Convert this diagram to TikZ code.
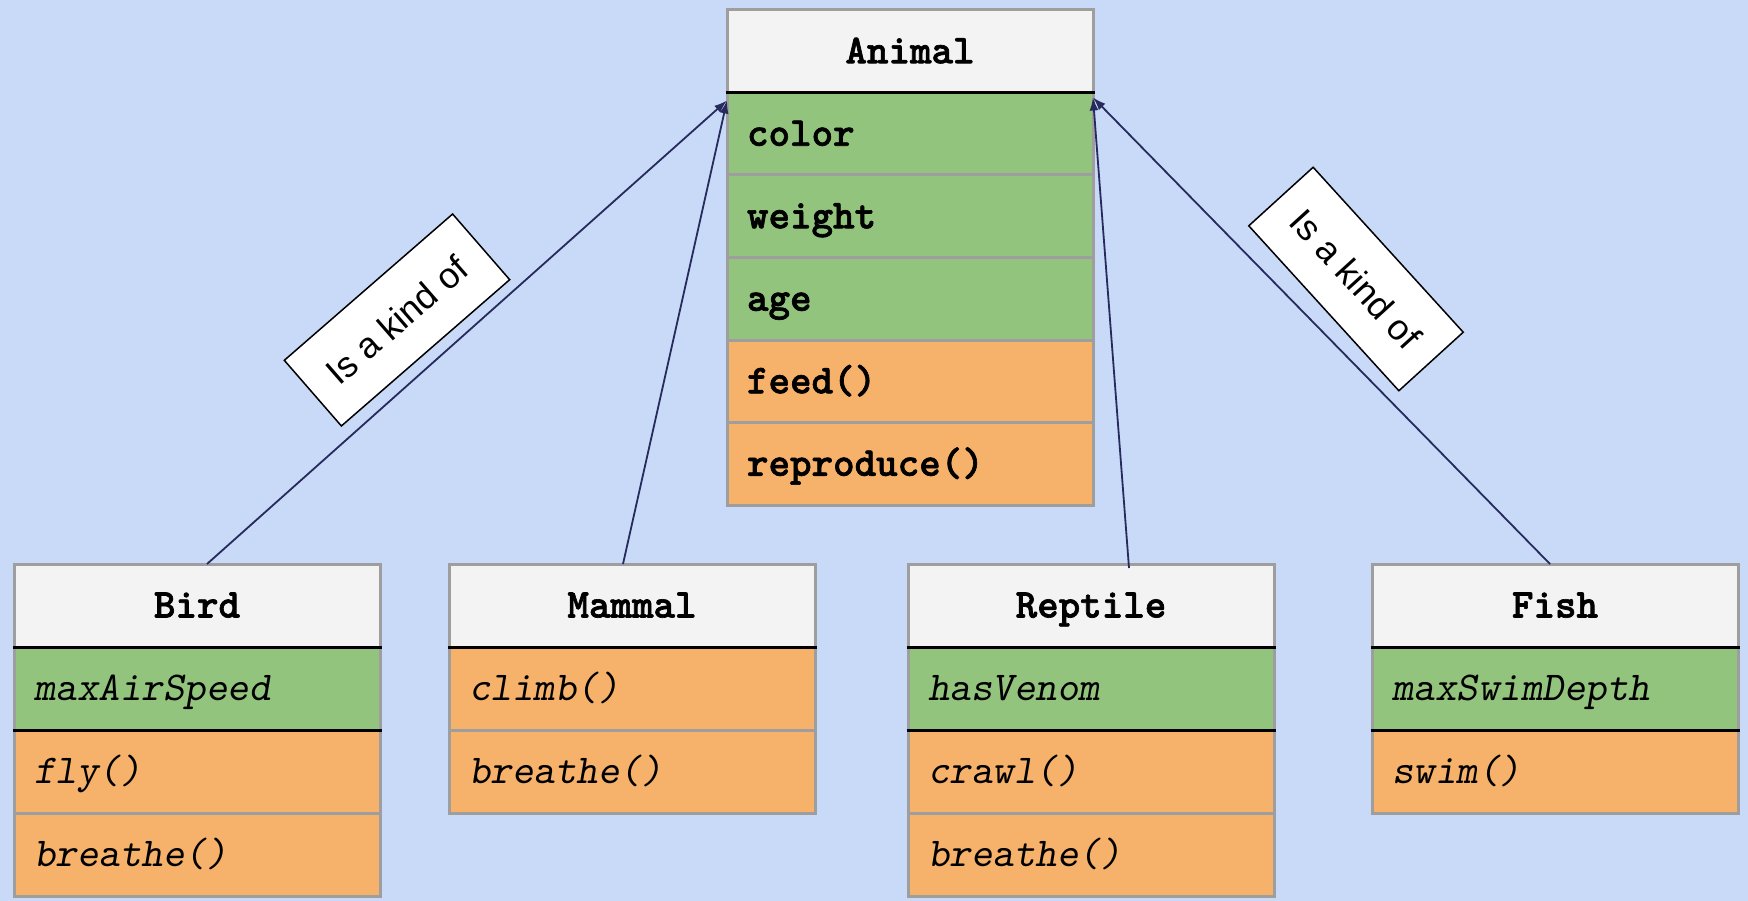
\documentclass[tikz,border=0pt]{standalone}
\usepackage{fontspec}
\setmainfont{Liberation Sans}
\setsansfont{Liberation Sans}
\newfontfamily\codeheavy{lmmonolt10-bold.otf}[FakeBold=1.6]
\usetikzlibrary{arrows.meta,calc}
\definecolor{canvas}{HTML}{C9DAF8}
\definecolor{hdrfill}{HTML}{F3F3F3}
\definecolor{attrfill}{HTML}{93C47D}
\definecolor{methfill}{HTML}{F6B26B}
\definecolor{cellgrey}{HTML}{9E9E9E}
\definecolor{linknavy}{HTML}{262A5C}
\def\rowh{83pt}
\newcommand{\codesize}{\fontsize{41}{44}\selectfont\ttfamily}
\newcommand{\codeboldsize}{\fontsize{41}{44}\selectfont\codeheavy}
\tikzset{
  cell/.style={draw=cellgrey, line width=3pt, anchor=north west, outer sep=0pt,
    text width=326pt, inner xsep=20pt, inner ysep=0pt,
    minimum height=\rowh, text height=28pt, text depth=4pt, align=left,
    font=\codesize},
  title/.style={cell, fill=hdrfill, align=center, font=\codeboldsize},
  attrB/.style={cell, fill=attrfill, font=\codeboldsize},
  methB/.style={cell, fill=methfill, font=\codeboldsize},
  attrI/.style={cell, fill=attrfill, font=\codesize\slshape},
  methI/.style={cell, fill=methfill, font=\codesize\slshape},
  sepline/.style={black, line width=3pt},
  isa/.style={linknavy, line width=1.8pt, -{Latex[length=13pt,width=9pt]}},
  kind/.style={draw=black, line width=1.5pt, fill=white, minimum width=223pt,
    minimum height=87pt, inner sep=0pt, font=\fontsize{36}{40}\selectfont\sffamily}
}
\newcommand{\sepbelow}[1]{\draw[sepline] ([xshift=-1.5pt]#1.south west) -- ([xshift=1.5pt]#1.south east);}
\begin{document}
\begin{tikzpicture}[x=1pt,y=-1pt]
\useasboundingbox (0,0) rectangle (1748,901);
\fill[canvas] (0,0) rectangle (1748,901);

% Base class
\def\rowh{82.5pt}
\node[title] (animal-h) at (727,10) {Animal};
\node[attrB] (animal-1) at (animal-h.south west) {color};
\node[attrB] (animal-2) at (animal-1.south west) {weight};
\node[attrB] (animal-3) at (animal-2.south west) {age};
\node[methB] (animal-4) at (animal-3.south west) {feed()};
\node[methB] (animal-5) at (animal-4.south west) {reproduce()};
\sepbelow{animal-h}

% Subclasses
\def\rowh{83pt}
\node[title] (bird-h) at (14,564) {Bird};
\node[attrI] (bird-1) at (bird-h.south west) {maxAirSpeed};
\node[methI] (bird-2) at (bird-1.south west) {fly()};
\node[methI] (bird-3) at (bird-2.south west) {breathe()};
\sepbelow{bird-h}
\sepbelow{bird-1}

\node[title] (mammal-h) at (449,564) {Mammal};
\node[methI] (mammal-1) at (mammal-h.south west) {climb()};
\node[methI] (mammal-2) at (mammal-1.south west) {breathe()};
\sepbelow{mammal-h}

\node[title] (reptile-h) at (908,564) {Reptile};
\node[attrI] (reptile-1) at (reptile-h.south west) {hasVenom};
\node[methI] (reptile-2) at (reptile-1.south west) {crawl()};
\node[methI] (reptile-3) at (reptile-2.south west) {breathe()};
\sepbelow{reptile-h}
\sepbelow{reptile-1}

\node[title] (fish-h) at (1372,564) {Fish};
\node[attrI] (fish-1) at (fish-h.south west) {maxSwimDepth};
\node[methI] (fish-2) at (fish-1.south west) {swim()};
\sepbelow{fish-h}
\sepbelow{fish-1}

% Inheritance links
\draw[isa] ([xshift=10pt]bird-h.north) -- ([yshift=-8pt]animal-h.south west);
\draw[isa] ([xshift=-9pt]mammal-h.north) -- ([yshift=-8pt]animal-h.south west);
\draw[isa] ([xshift=38pt,yshift=-4pt]reptile-h.north) -- ([yshift=-5pt]animal-h.south east);
\draw[isa] ([xshift=-5pt]fish-h.north) -- ([yshift=-5pt]animal-h.south east);

% Link labels
\node[kind, rotate=41] (kind-bird) at (397,320) {Is a kind of};
\node[kind, rotate=-47.7] (kind-fish) at (1356,279) {Is a kind of};
\end{tikzpicture}
\end{document}
